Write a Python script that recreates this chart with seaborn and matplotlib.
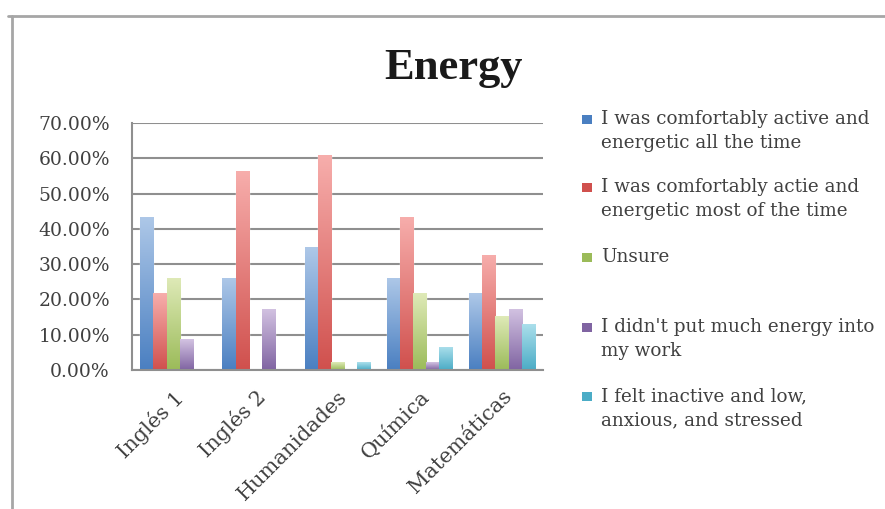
import numpy as np
import pandas as pd
import seaborn as sns
import matplotlib.pyplot as plt
from matplotlib.lines import Line2D
from matplotlib.patches import Rectangle
from matplotlib.colors import LinearSegmentedColormap

# ---- data (percent of students) ----
subjects = ['Inglés 1', 'Inglés 2', 'Humanidades', 'Química', 'Matemáticas']
answers = ['I was comfortably active and\nenergetic all the time',
           'I was comfortably actie and\nenergetic most of the time',
           'Unsure',
           "I didn't put much energy into\nmy work",
           'I felt inactive and low,\nanxious, and stressed']
active_all = [43.48, 26.09, 34.78, 26.09, 21.74]
active_most = [21.74, 56.52, 60.87, 43.48, 32.61]
unsure = [26.09, 0.0, 2.17, 21.74, 15.22]
low_energy = [8.70, 17.39, 0.0, 2.17, 17.39]
stressed = [0.0, 0.0, 2.17, 6.52, 13.04]
yticks = [0, 10, 20, 30, 40, 50, 60, 70]

# dark (bottom) and light (top) colours of each bar gradient
dark = ['#4a7fc1', '#d0504d', '#9bbb59', '#8064a2', '#4bacc6']
light = ['#aec8e8', '#f7aeac', '#dfeab8', '#d3c3e2', '#ade0ec']

series = [active_all, active_most, unsure, low_energy, stressed]
rows = []
for lab, vals in zip(answers, series):
    for s, v in zip(subjects, vals):
        rows.append([s, lab, v])
df = pd.DataFrame(rows, columns=['Subject', 'Answer', 'Percent'])

sns.set_style('white')
txtc = '#404040'
gridc = '#8f8f8f'

fig = plt.figure(figsize=(8.85, 5.09), dpi=100)
ax = fig.add_axes([0.1492, 0.2731, 0.4644, 0.4853])

sns.barplot(data=df, x='Subject', y='Percent', hue='Answer',
            order=subjects, hue_order=answers, palette=dark,
            width=0.8, gap=0, saturation=1, legend=False, ax=ax)

ax.set_ylim(0, 70)
ax.set_xlim(-0.5, len(subjects) - 0.5)

# vertical gradient on every bar, like the office chart
grad = np.linspace(0, 1, 256).reshape(-1, 1)
for i, cont in enumerate(ax.containers):
    cmap = LinearSegmentedColormap.from_list('g%d' % i, [dark[i], light[i]])
    for bar in cont:
        h = bar.get_height()
        if h <= 0:
            continue
        x0 = bar.get_x()
        w = bar.get_width()
        im = ax.imshow(grad, cmap=cmap, aspect='auto', origin='lower',
                       extent=(x0, x0 + w, 0, h), zorder=bar.get_zorder() + 0.1)
        im.set_clip_path(bar)
ax.set_aspect('auto')
ax.set_ylim(0, 70)
ax.set_xlim(-0.5, len(subjects) - 0.5)

ax.set_yticks(yticks)
ax.set_yticklabels(['%.2f%%' % t for t in yticks])
ax.yaxis.grid(True, color=gridc, linewidth=1.5)
ax.set_axisbelow(True)
ax.set_xlabel('')
ax.set_ylabel('')
for sp in ['top', 'right']:
    ax.spines[sp].set_visible(False)
for sp in ['left', 'bottom']:
    ax.spines[sp].set_color(gridc)
    ax.spines[sp].set_linewidth(1.5)
ax.tick_params(axis='y', length=0, pad=16, labelsize=13.5, labelcolor=txtc)
ax.tick_params(axis='x', length=0, pad=12, labelsize=15, labelcolor=txtc)
for t in ax.get_yticklabels():
    t.set_family('DejaVu Serif')
for t in ax.get_xticklabels():
    t.set_family('DejaVu Serif')
    t.set_rotation(45)
    t.set_ha('right')
    t.set_rotation_mode('anchor')

fig.text(0.512, 0.866, 'Energy', ha='center', va='center',
         family='Liberation Serif', fontweight='bold', fontsize=32, color='#1a1a1a')

# legend drawn by hand so the squares sit on the first line
W, H = 885.0, 509.0
first_lines = [120, 188, 258, 328, 397]
for i, (lab, yy) in enumerate(zip(answers, first_lines)):
    fig.add_artist(Rectangle((582 / W, 1 - (yy + 4) / H), 10 / W, 9 / H,
                             transform=fig.transFigure, facecolor=dark[i],
                             edgecolor='none'))
    fig.text(601 / W, 1 - (yy - 10) / H, lab, ha='left', va='top',
             family='DejaVu Serif', fontsize=13.2, color=txtc, linespacing=1.42)

# outer chart frame (top and left edges visible)
fig.add_artist(Line2D([8 / W, 1], [1 - 16 / H, 1 - 16 / H], transform=fig.transFigure,
                      color='#a6a6a6', linewidth=2))
fig.add_artist(Line2D([12 / W, 12 / W], [0, 1 - 16 / H], transform=fig.transFigure,
                      color='#a6a6a6', linewidth=2))

fig.savefig('out.png', dpi=100)
